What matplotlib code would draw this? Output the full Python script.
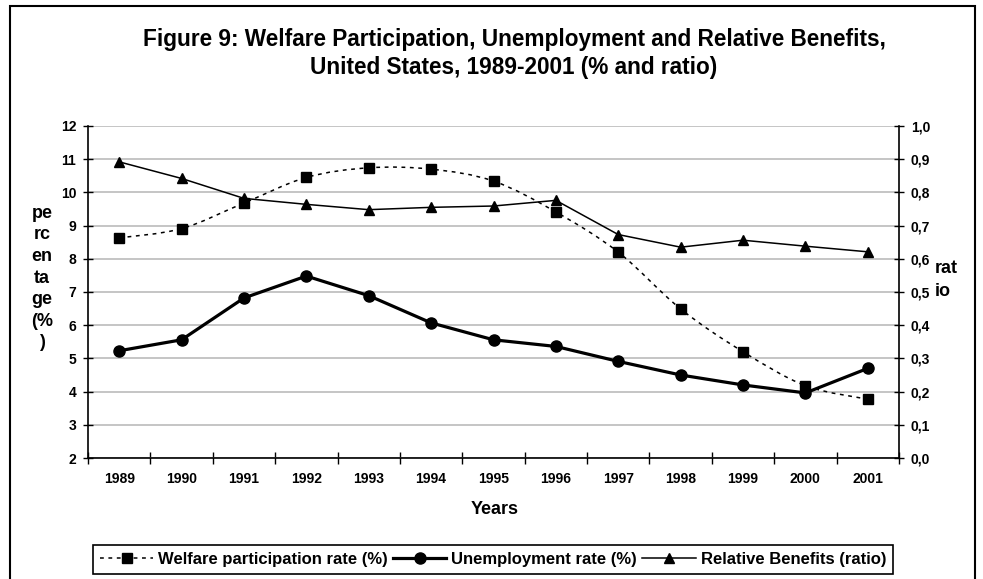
import matplotlib
matplotlib.use("Agg")
import matplotlib.pyplot as plt
from matplotlib.path import Path
from matplotlib.patches import PathPatch, Rectangle
from matplotlib.lines import Line2D
import numpy as np

plt.rcParams['font.family'] = ['Liberation Sans', 'DejaVu Sans']
plt.rcParams['font.weight'] = 'bold'

years = ['1989', '1990', '1991', '1992', '1993', '1994', '1995',
         '1996', '1997', '1998', '1999', '2000', '2001']
welfare = [8.63, 8.91, 9.68, 10.45, 10.74, 10.70, 10.34, 9.41, 8.20, 6.49, 5.20, 4.18, 3.77]
unemployment = [5.23, 5.56, 6.82, 7.48, 6.89, 6.07, 5.56, 5.36, 4.91, 4.50, 4.20, 3.96, 4.70]
relative_benefits = [0.892, 0.842, 0.782, 0.764, 0.748, 0.755, 0.759, 0.776,
                     0.673, 0.635, 0.656, 0.638, 0.621]
left_ticks = list(range(2, 13))
right_ticks = [0.0, 0.1, 0.2, 0.3, 0.4, 0.5, 0.6, 0.7, 0.8, 0.9, 1.0]

W, H = 983, 579
fig = plt.figure(figsize=(W / 100, H / 100), dpi=100)
ax = fig.add_axes([88 / W, 1 - 458 / H, (899 - 88) / W, (458 - 126) / H])
ax2 = ax.twinx()

x = np.arange(len(years))

# smoothed welfare line (Excel-style bezier through the data points)
pts = np.column_stack([x, welfare]).astype(float)
verts = [tuple(pts[0])]
codes = [Path.MOVETO]
n = len(pts)
for i in range(n - 1):
    p0 = pts[i - 1] if i > 0 else pts[i]
    p1 = pts[i]
    p2 = pts[i + 1]
    p3 = pts[i + 2] if i + 2 < n else pts[i + 1]
    c1 = p1 + (p2 - p0) / 6.0
    c2 = p2 - (p3 - p1) / 6.0
    verts += [tuple(c1), tuple(c2), tuple(p2)]
    codes += [Path.CURVE4] * 3
wpatch = PathPatch(Path(verts, codes), facecolor='none', edgecolor='black',
                   lw=1.1, linestyle=(0, (2.5, 3)), zorder=3)
ax.add_patch(wpatch)
ax.plot(x, welfare, linestyle='none', marker='s', markersize=7.5,
        color='black', zorder=4)

ax.plot(x, unemployment, color='black', lw=2.3, marker='o', markersize=8, zorder=4)
ax2.plot(x, relative_benefits, color='black', lw=1.1, marker='^', markersize=7, zorder=4)

ax.set_xlim(-0.5, len(years) - 0.5)
ax.set_ylim(2, 12)
ax2.set_ylim(0, 1.0)

ax.set_yticks(left_ticks)
ax.set_yticklabels([str(t) for t in left_ticks])
ax2.set_yticks(right_ticks)
ax2.set_yticklabels([f"{t:.1f}".replace('.', ',') for t in right_ticks])

ax.set_xticks(np.arange(-0.5, len(years), 1.0))
ax.set_xticklabels([])
ax.set_xticks(x, minor=True)
ax.set_xticklabels(years, minor=True)
ax.tick_params(axis='x', which='major', direction='inout', length=8, width=1)
ax.tick_params(axis='x', which='minor', length=0, pad=10, labelsize=10)
ax.tick_params(axis='y', direction='inout', length=7, width=1, labelsize=10, pad=5)
ax2.tick_params(axis='y', direction='inout', length=7, width=1, labelsize=10, pad=5)

ax.grid(axis='y', color='#c0c0c0', lw=1.3)
ax.set_axisbelow(True)
for a in (ax, ax2):
    a.spines['top'].set_visible(False)
    for s in ('left', 'right', 'bottom'):
        a.spines[s].set_linewidth(1.2)
ax2.spines['left'].set_visible(False)
ax.spines['right'].set_visible(False)
ax2.spines['bottom'].set_visible(False)

fig.text(42 / W, 1 - 278 / H, "pe\nrc\nen\nta\nge\n(%\n)", ha='center', va='center',
         fontsize=13, fontweight='bold', linespacing=1.35)
fig.text(935 / W, 1 - 280 / H, "rat\nio", ha='left', va='center',
         fontsize=13, fontweight='bold', linespacing=1.45)
fig.text(495 / W, 1 - 510 / H, "Years", ha='center', va='center',
         fontsize=13, fontweight='bold')
fig.text(514 / W, 1 - 53.5 / H,
         "Figure 9: Welfare Participation, Unemployment and Relative Benefits,\n"
         "United States, 1989-2001 (% and ratio)",
         ha='center', va='center', fontsize=16.3, fontweight='bold', linespacing=1.32)

handles = [
    Line2D([], [], color='black', lw=1.1, linestyle=(0, (2.5, 3)), marker='s', markersize=7.5),
    Line2D([], [], color='black', lw=2.3, marker='o', markersize=8),
    Line2D([], [], color='black', lw=1.1, marker='^', markersize=7),
]
labels = ['Welfare participation rate (%)', 'Unemployment rate (%)', 'Relative Benefits (ratio)']
leg = fig.legend(handles, labels, loc='center',
                 bbox_to_anchor=(493 / W, 1 - 559.5 / H), ncol=3, frameon=True,
                 fancybox=False, edgecolor='black', framealpha=1,
                 prop={'size': 12, 'weight': 'bold'}, handlelength=3.2,
                 handletextpad=0.3, columnspacing=0.3, borderpad=0.4,
                 borderaxespad=0)
leg.get_frame().set_linewidth(1.2)

border = Rectangle((10 / W, -0.05), (975 - 10) / W, 1 - 6 / H + 0.05,
                   transform=fig.transFigure, fill=False, edgecolor='black',
                   lw=1.5, clip_on=False)
fig.patches.append(border)

fig.savefig("out.png", dpi=100)
